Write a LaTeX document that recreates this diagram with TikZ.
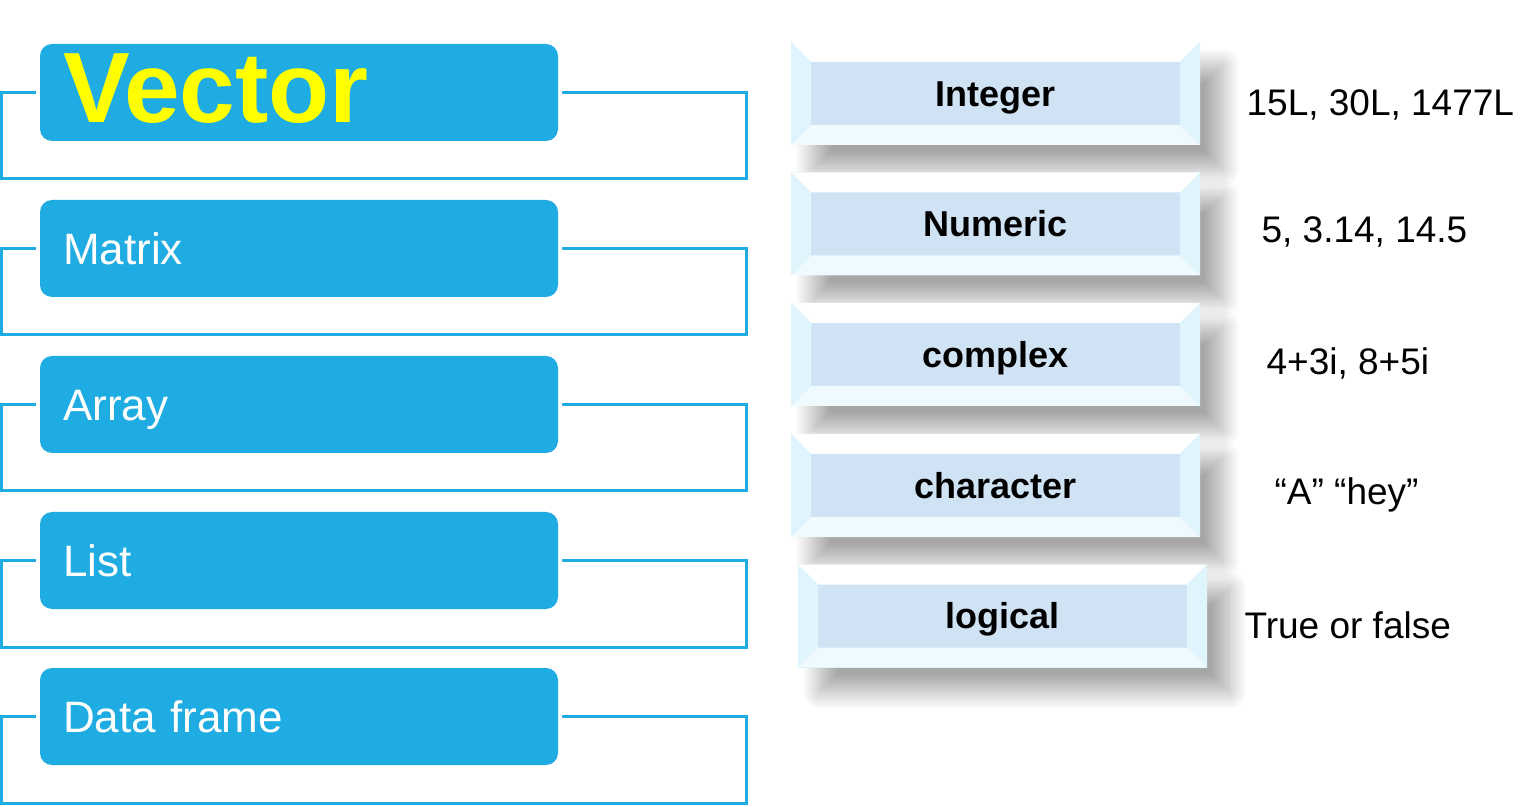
\documentclass[tikz,border=0pt]{standalone}
\usepackage{fontspec}
\setmainfont{Liberation Sans}
\usepackage{tikz}
\usetikzlibrary{positioning, backgrounds, shadows.blur}

\definecolor{typeblue}{RGB}{30,172,227}
\definecolor{vecyellow}{RGB}{255,255,0}
\definecolor{bevelfill}{RGB}{207,227,244}
\definecolor{bevelside}{RGB}{224,244,253}
\definecolor{bevelbottom}{RGB}{238,250,254}

\newcommand{\bevelframe}{%
  \fill[white] (path picture bounding box.north west) -- (path picture bounding box.north east) -- ([xshift=-10pt,yshift=-10pt]path picture bounding box.north east) -- ([xshift=10pt,yshift=-10pt]path picture bounding box.north west) -- cycle;
  \fill[bevelside] (path picture bounding box.north west) -- ([xshift=10pt,yshift=-10pt]path picture bounding box.north west) -- ([xshift=10pt,yshift=10pt]path picture bounding box.south west) -- (path picture bounding box.south west) -- cycle;
  \fill[bevelside] (path picture bounding box.north east) -- ([xshift=-10pt,yshift=-10pt]path picture bounding box.north east) -- ([xshift=-10pt,yshift=10pt]path picture bounding box.south east) -- (path picture bounding box.south east) -- cycle;
  \fill[bevelbottom] (path picture bounding box.south west) -- ([xshift=10pt,yshift=10pt]path picture bounding box.south west) -- ([xshift=-10pt,yshift=10pt]path picture bounding box.south east) -- (path picture bounding box.south east) -- cycle;
}

\begin{document}
\begin{tikzpicture}[x=0.5pt, y=-0.5pt, node distance=78pt, thick]
    \tikzstyle{kind} = [rectangle, rounded corners=6pt, fill=typeblue, text=white, preaction={draw=white, line width=4pt}, minimum width=259pt, minimum height=48.5pt, text width=236pt, inner xsep=11.5pt, align=left, font=\fontsize{22}{22}\selectfont, text height=15.75pt, text depth=0pt]
    \tikzstyle{frame} = [draw=typeblue, line width=1.5pt]
    \tikzstyle{atomic} = [rectangle, fill=bevelfill, minimum width=204.5pt, minimum height=51.5pt, text height=12.9pt, text depth=0pt, font=\bfseries\fontsize{18}{18}\selectfont, blur shadow={shadow xshift=11pt, shadow yshift=-12pt, shadow blur radius=9pt, shadow blur steps=24, shadow opacity=35}, path picture={\bevelframe}]
    \tikzstyle{example} = [anchor=base west, inner sep=0pt, font=\fontsize{18.5}{18.5}\selectfont]

    \useasboundingbox (0,0) rectangle (1537,807);

    \node [kind, text=vecyellow, text height=30pt, font=\bfseries\fontsize{50}{50}\selectfont] (vec) at (299,92.5) {Vector};
    \node [kind, below of=vec] (mat) {Matrix};
    \node [kind, below of=mat] (arr) {Array};
    \node [kind, below of=arr] (lst) {List};
    \node [kind, below of=lst] (dfr) {Data frame};

    \node [atomic] (int) at (995.5,93.5) {Integer};
    \node [atomic, below of=int, node distance=65.25pt] (num) {Numeric};
    \node [atomic, below of=num, node distance=65.25pt] (cpx) {complex};
    \node [atomic, below of=cpx, node distance=65.5pt] (chr) {character};
    \node [atomic, below of=chr, node distance=65.25pt, xshift=3.5pt] (lgc) {logical};

    \node [example] (intval) at ([xshift=22.5pt, yshift=-11.25pt]int.east) {15L, 30L, 1477L};
    \node [example] (numval) at ([xshift=30pt, yshift=-9.5pt]num.east) {5, 3.14, 14.5};
    \node [example] (cpxval) at ([xshift=32.5pt, yshift=-10.25pt]cpx.east) {4+3i, 8+5i};
    \node [example] (chrval) at ([xshift=36.5pt, yshift=-9.75pt]chr.east) {“A” “hey”};
    \node [example] (lgcval) at ([xshift=18pt, yshift=-11pt]lgc.east) {True or false};

    % bracket frames behind the blue boxes
    \begin{scope}[on background layer]
        \foreach \k in {vec, mat, arr, lst, dfr}
            \draw [frame] ([xshift=-19pt]\k.west) rectangle ([xshift=94pt, yshift=-43.25pt]\k.east);
    \end{scope}
\end{tikzpicture}
\end{document}
